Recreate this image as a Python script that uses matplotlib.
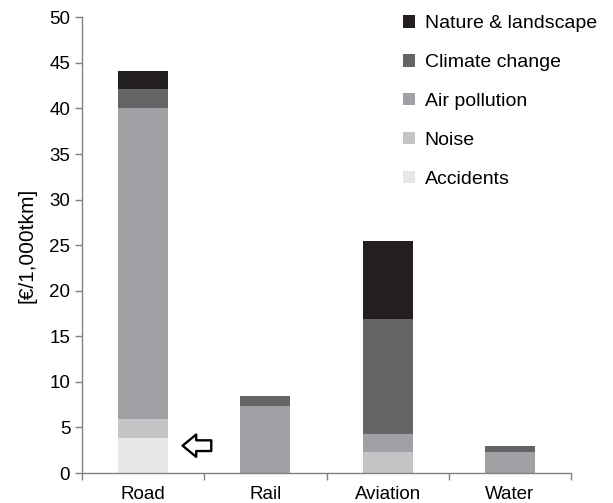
import matplotlib
matplotlib.use("Agg")
import matplotlib.pyplot as plt
import numpy as np

plt.rcParams['font.family'] = ['Liberation Sans', 'DejaVu Sans']

modes = ["Road", "Rail", "Aviation", "Water"]
# stacked from bottom to top
accidents = [3.8, 0.0, 0.0, 0.0]
noise = [2.1, 0.0, 2.3, 0.0]
air_pollution = [34.2, 7.4, 2.0, 2.3]
climate_change = [2.0, 1.1, 12.6, 0.7]
nature_landscape = [2.0, 0.0, 8.6, 0.0]

series = [
    ("Accidents", accidents, "#e6e7e8"),
    ("Noise", noise, "#c3c4c6"),
    ("Air pollution", air_pollution, "#a0a1a4"),
    ("Climate change", climate_change, "#646567"),
    ("Nature & landscape", nature_landscape, "#231f20"),
]

fig = plt.figure(figsize=(6.13, 5.03), dpi=100)
ax = fig.add_axes([0.1338, 0.0596, 0.7977, 0.906])

x = np.arange(len(modes))
bottom = np.zeros(len(modes))
for name, vals, col in series:
    ax.bar(x, vals, width=0.41, bottom=bottom, color=col, label=name)
    bottom += np.array(vals)

ax.set_xlim(-0.5, 3.5)
ax.set_ylim(0, 50)
ax.set_yticks(np.arange(0, 51, 5))
ax.set_xticks(np.arange(-0.5, 3.6, 1.0))
ax.set_xticklabels([])
ax.set_xticks(x, minor=True)
ax.set_xticklabels(modes, minor=True)
ax.tick_params(axis='x', which='minor', length=0, labelsize=13.5, pad=9)
ax.tick_params(axis='x', which='major', length=5, color='#808080', width=1)
ax.tick_params(axis='y', length=5, color='#808080', width=1, labelsize=13.5)

for side in ['top', 'right']:
    ax.spines[side].set_visible(False)
for side in ['left', 'bottom']:
    ax.spines[side].set_color('#808080')
    ax.spines[side].set_linewidth(1)

ax.set_ylabel("[€/1,000tkm]", fontsize=15, labelpad=9)

# hollow arrow pointing at the accidents segment
ax.annotate('', xy=(0.30, 3.0), xytext=(0.58, 3.0),
            arrowprops=dict(arrowstyle='simple,head_length=0.7,head_width=1.15,tail_width=0.55',
                            fc='white', ec='black', lw=1.7, mutation_scale=14))

handles, labels = ax.get_legend_handles_labels()
ax.legend(handles[::-1], labels[::-1], loc='upper left',
          bbox_to_anchor=(403 / 613, 1 - 15 / 503), bbox_transform=fig.transFigure,
          frameon=False, fontsize=14, handlelength=0.62, handleheight=0.62,
          labelspacing=1.12, handletextpad=0.5, borderpad=0, borderaxespad=0)

fig.savefig("out.png", dpi=100)
